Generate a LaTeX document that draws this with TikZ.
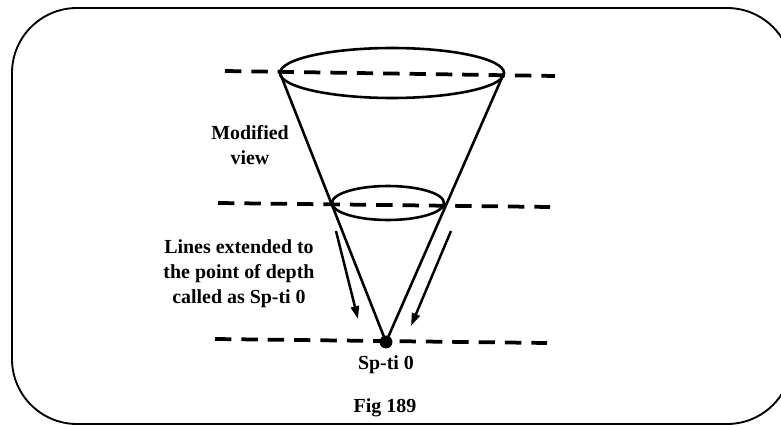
\documentclass[tikz,border=0pt]{standalone}
\usepackage{fontspec}
\setmainfont{Liberation Serif}
\usepackage{tikz}
\usetikzlibrary{arrows.meta, positioning, calc}
\definecolor{mydark}{RGB}{0,0,0}
\tikzset{
  frame/.style={draw=mydark, line width=1.6pt, rounded corners=1.95cm},
  rim/.style={draw=mydark, line width=2.2pt},
  cone/.style={draw=mydark, line width=2.2pt},
  level/.style={draw=mydark, line width=3.2pt, dash pattern=on 14pt off 8.5pt},
  arrow/.style={-{Triangle[length=11pt, width=7pt]}, line width=2.1pt, color=mydark},
  label/.style={font=\fontsize{17}{21.5}\selectfont\bfseries, align=center, inner sep=0pt},
  apexdot/.style={circle, fill=mydark, minimum size=11pt, inner sep=0pt}
}
\begin{document}
\begin{tikzpicture}[x=0.03cm, y=-0.03cm]
  \useasboundingbox (0,0) rectangle (781,426);
  \clip (0,0) rectangle (781,426);
  \draw[frame] (12,8) rectangle (792,424);

  \draw[level] (225,71) -- (555,76);
  \draw[level] (218,203) -- (550,207);
  \draw[level] (215,339) -- (547,343);

  \draw[rim] (392,73) ellipse (112 and 25);
  \draw[rim] (388,203) ellipse (56 and 17);

  \coordinate (topL) at (280,73);
  \coordinate (topR) at (504,73);
  \node[apexdot] (apex) at (386,342) {};
  \draw[cone] (topL) -- (apex.center);
  \draw[cone] (topR) -- (apex.center);

  \coordinate (arrL) at (336,231);
  \coordinate (arrR) at (451,231);
  \coordinate (tipL) at (358,319);
  \coordinate (tipR) at (411,326);
  \draw[arrow] (arrL) -- (tipL);
  \draw[arrow] (arrR) -- (tipR);

  \node[label] (modified) at (250,145) {Modified\\view};
  \node[label] (extended) at (239,274) {Lines extended to\\the point of depth\\called as Sp-ti 0};
  \node[label] (spti) at (386,365) {Sp-ti 0};
  \node[label] (fig) at (385,408) {Fig 189};
\end{tikzpicture}
\end{document}
